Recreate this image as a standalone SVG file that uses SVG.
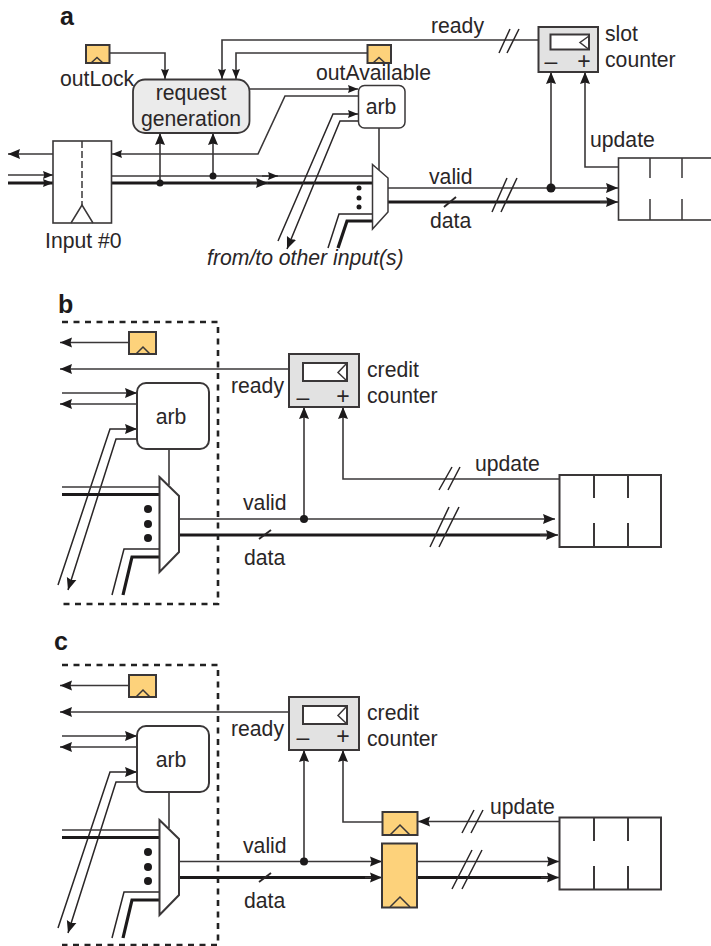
<svg xmlns="http://www.w3.org/2000/svg" width="711" height="946" viewBox="0 0 711 946">
<style>
text{font-family:"Liberation Sans",Arial,sans-serif;font-size:21.2px;fill:#2a2627}
.b{font-weight:bold;font-size:25px;fill:#1c1a1b}
.m{text-anchor:middle}
.i{font-style:italic}
.sym{font-size:23px}
path,rect,line,polygon{stroke:#3a3738;stroke-width:1.5;fill:none;stroke-linejoin:miter}
.c path,.c line{stroke-width:1.6}
.t{stroke:#1c1a1b!important;stroke-width:3.2!important}
.s{stroke-width:1.5!important;stroke:#2a2627!important}
.k{stroke-width:1.9!important;stroke:#2a2627!important}
.a{marker-end:url(#ah)}
.as{marker-end:url(#as)}
.box{fill:#fff;stroke-width:2}
.ff{fill:#fdd27b;stroke-width:2}
.cnt{fill:#e2e2e2;stroke-width:2}
.gr{fill:#ebebeb;stroke-width:1.8}
.dash{stroke:#222;stroke-width:2.6;stroke-dasharray:6 5.500}
.dot{fill:#1c1a1b;stroke:none}
.mk{fill:#1c1a1b;stroke:none}
</style>
<defs>
<marker id="ah" markerUnits="userSpaceOnUse" markerWidth="13" markerHeight="11" refX="12" refY="5.500" orient="auto"><path class="mk" d="M0 0.500L12 5.500L0 10.500L1.500 5.500Z"/></marker>
<marker id="as" markerUnits="userSpaceOnUse" markerWidth="11" markerHeight="9" refX="10" refY="4.500" orient="auto"><path class="mk" d="M0 0.500L10 4.500L0 8.500L1.200 4.500Z"/></marker>
</defs>

<text class="b" x="60" y="25">a</text>
<g id="a-connectors" class="c">
<path class="as" d="M109 53H165V79"/>
<path class="as" d="M538 40H222V79"/>
<path class="as" d="M367 53H236V79"/>
<path class="as" d="M250 89H358"/>
<path class="as" d="M358 96H285L258 154H112"/>
<path class="a" d="M53 154H8"/>
<path class="as" d="M8 175H53"/>
<path class="t as" d="M8 183H53"/>
<path d="M111 176H373"/>
<path class="t" d="M111 183H373"/>
<path class="as" d="M262 176H278"/>
<path class="a" d="M250 183H268"/>
<path class="a" d="M160 183V133"/>
<path class="a" d="M213 176V133"/>
<path class="s as" d="M278 241L333 114H358"/>
<path class="s a" d="M358 121H340L287 249"/>
<path class="s" d="M328 248L339 214H373"/>
<path class="t" d="M338 248L347 221H373"/>
<path d="M379 128V170"/>
<path class="a" d="M388 188H618"/>
<path class="t" d="M388 202H612"/>
<path class="a" d="M600 202H618"/>
<path class="k" d="M444 207L456 197"/>
<path class="s" d="M492 212L507 178M501 212L517 178"/>
<path class="s" d="M499 53L510 29M507 53L519 29"/>
<path class="a" d="M551 188V72"/>
<path class="a" d="M618 167H585V72"/>
<circle class="dot" cx="160" cy="183" r="3.500"/>
<circle class="dot" cx="213" cy="176" r="3.500"/>
<circle class="dot" cx="551" cy="188" r="4.500"/>
<circle class="dot" cx="359" cy="188" r="2.500"/>
<circle class="dot" cx="359" cy="198" r="2.500"/>
<circle class="dot" cx="359" cy="207" r="2.500"/>
</g>
<g id="a-outLock"><rect class="ff" x="86" y="45" width="23.500" height="18"/><path d="M91 63L97 57.500L103 63"/><text x="60" y="86">outLock</text></g>
<g id="a-outAvailable"><rect class="ff" x="367.500" y="45" width="23.500" height="18"/><path d="M373 63L379 57.500L385 63"/><text x="316" y="80">outAvailable</text></g>
<g id="a-request"><rect class="gr" x="133" y="79.500" width="116.500" height="53.500" rx="12"/><text class="m" x="191" y="100">request</text><text class="m" x="191" y="126">generation</text></g>
<g id="a-arb"><rect class="box" x="358.500" y="85.500" width="46.500" height="42.500" rx="6" style="stroke-width:1.500"/><text class="m" x="381" y="114">arb</text></g>
<g id="a-input"><rect class="box" x="53" y="141" width="58.500" height="82" style="stroke-width:1.600"/><path d="M82 141V205" style="stroke-dasharray:7 3"/><path d="M71 223L82 205L93 223"/><text x="45" y="248">Input #0</text></g>
<g id="a-mux"><polygon class="box" points="372.500,164.500 388,178 388,212 372.500,229" style="stroke-width:1.500"/></g>
<g id="a-slot"><rect class="cnt" x="538.500" y="27" width="59.500" height="45"/><rect class="box" x="550.500" y="34.500" width="38.500" height="15"/><path d="M589 36L580 42.500L589 49.500"/><text class="m sym" x="551" y="69">–</text><text class="m sym" x="584" y="69">+</text><text x="605" y="41">slot</text><text x="605" y="67">counter</text></g>
<g id="a-buffer"><rect class="box" x="618.500" y="158" width="100" height="62" style="stroke-width:1.600"/><path d="M650 158V178M682 158V178M650 199V220M682 199V220"/></g>
<text x="431" y="33">ready</text><text x="429" y="184">valid</text><text x="430" y="228">data</text><text x="590" y="147">update</text><text class="i" x="207" y="265">from/to other input(s)</text>

<text class="b" x="58" y="313">b</text>
<g id="b-connectors" class="c">
<path class="a" d="M129 342.500H60"/>
<path class="a" d="M289 369H60"/>
<path class="a" d="M62 393H137"/>
<path class="a" d="M137 404H60"/>
<path class="s a" d="M58 585L110 429H137"/>
<path class="s a" d="M137 439H116L68 590"/>
<path d="M62 487H160"/>
<path class="t" d="M62 494.500H160"/>
<path class="s" d="M112 595L124 549H160"/>
<path class="t" d="M123 595L132 557H160"/>
<path d="M169 449V485"/>
<path class="a" d="M179 519H555"/>
<path class="t" d="M179 535H550"/>
<path class="a" d="M540 535H558"/>
<path class="k" d="M259 539L271 530"/>
<path class="a" d="M304 519V407"/>
<path class="a" d="M559 479H343V407"/>
<path class="s" d="M439 490L452 467M448 490L460 467M430 547L449 507M439 547L459 507"/>
<circle class="dot" cx="304" cy="519" r="4"/>
<circle class="dot" cx="148" cy="509" r="4"/><circle class="dot" cx="148" cy="524" r="4"/><circle class="dot" cx="148" cy="538" r="4"/>
</g>
<path id="b-boundary" class="dash" d="M62 322H218V604H62"/>
<g id="b-flop"><rect class="ff" x="129" y="332" width="27" height="22"/><path d="M136 354L143 347L150 354"/></g>
<g id="b-counter"><rect class="cnt" x="289" y="354" width="70" height="53"/><rect class="box" x="303" y="363" width="44" height="18"/><path d="M347 363L338 372.500L347 381"/><text class="m sym" x="303" y="405">–</text><text class="m sym" x="343" y="404">+</text><text x="367" y="377">credit</text><text x="367" y="403">counter</text></g>
<g id="b-arb"><rect class="box" x="137" y="383" width="72" height="66" rx="9"/><text class="m" x="171" y="424">arb</text></g>
<g id="b-mux"><polygon class="box" points="159.500,477 179,496 179,552 159.500,572"/></g>
<g id="b-buffer"><rect class="box" x="559.500" y="475" width="101.500" height="72"/><path d="M594 475V498M628 475V498M594 523V547M628 523V547" style="stroke-width:2"/></g>
<text x="231" y="393">ready</text><text x="243" y="510">valid</text><text x="244" y="565">data</text><text x="475" y="471">update</text>

<text class="b" x="54" y="650">c</text>
<g id="c-connectors" class="c">
<path class="a" d="M129 685.500H60"/>
<path class="a" d="M289 712H60"/>
<path class="a" d="M62 736H137"/>
<path class="a" d="M137 747H60"/>
<path class="s a" d="M58 928L110 772H137"/>
<path class="s a" d="M137 782H116L68 933"/>
<path d="M62 830H160"/>
<path class="t" d="M62 837.500H160"/>
<path class="s" d="M112 938L124 892H160"/>
<path class="t" d="M123 938L132 900H160"/>
<path d="M169 792V828"/>
<path class="a" d="M179 861.500H382"/>
<path class="t" d="M179 877.500H375"/>
<path class="a" d="M365 877.500H382"/>
<path class="a" d="M417 861.500H559"/>
<path class="t" d="M417 877.500H552"/>
<path class="a" d="M541 877.500H559"/>
<path class="k" d="M259 882L271 873"/>
<path class="a" d="M304 861.500V750"/>
<path class="a" d="M382 822H343V750"/>
<path class="a" d="M559 821.500H418"/>
<path class="s" d="M462 833L474 810M471 833L483 810M452 889L472 850M462 889L482 850"/>
<circle class="dot" cx="304" cy="861.500" r="4"/>
<circle class="dot" cx="148" cy="852" r="4"/><circle class="dot" cx="148" cy="867" r="4"/><circle class="dot" cx="148" cy="881" r="4"/>
</g>
<path id="c-boundary" class="dash" d="M62 665H218V945H62"/>
<g id="c-flop"><rect class="ff" x="129" y="675" width="27" height="22"/><path d="M136 697L143 690L150 697"/></g>
<g id="c-counter"><rect class="cnt" x="289" y="697" width="70" height="53"/><rect class="box" x="303" y="706" width="44" height="18"/><path d="M347 706L338 715.500L347 724"/><text class="m sym" x="303" y="745">–</text><text class="m sym" x="343" y="744">+</text><text x="367" y="720">credit</text><text x="367" y="746">counter</text></g>
<g id="c-arb"><rect class="box" x="137" y="726" width="72" height="66" rx="9"/><text class="m" x="171" y="767">arb</text></g>
<g id="c-mux"><polygon class="box" points="159.500,820 179,839 179,895 159.500,915"/></g>
<g id="c-flop-update"><rect class="ff" x="382.500" y="812" width="35" height="23"/><path d="M390 835L400 825L410 835"/></g>
<g id="c-flop-data"><rect class="ff" x="382" y="843.500" width="35" height="64"/><path d="M390 907L400 897L410 907"/></g>
<g id="c-buffer"><rect class="box" x="559.500" y="817.500" width="101.500" height="72"/><path d="M594 817V841M628 817V841M594 866V890M628 866V890" style="stroke-width:2"/></g>
<text x="231" y="736">ready</text><text x="243" y="853">valid</text><text x="244" y="908">data</text><text x="490" y="814">update</text>
</svg>
